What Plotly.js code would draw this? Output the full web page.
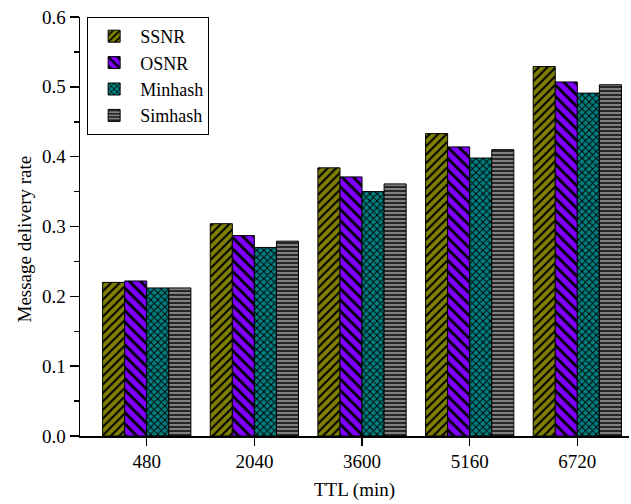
<!DOCTYPE html>
<html><head><meta charset="utf-8">
<script src="https://cdn.plot.ly/plotly-3.0.1.min.js"></script>
<style>html,body{margin:0;padding:0;background:#fff}</style>
</head><body><div id="chart" style="width:631px;height:504px"></div>
<script>
const categories = ["480", "2040", "3600", "5160", "6720"];
const seriesNames = ["SSNR", "OSNR", "Minhash", "Simhash"];
const ssnr = [0.220, 0.304, 0.384, 0.433, 0.529];
const osnr = [0.222, 0.287, 0.371, 0.414, 0.507];
const minhash = [0.212, 0.270, 0.350, 0.398, 0.491];
const simhash = [0.212, 0.279, 0.361, 0.410, 0.503];

const values = [ssnr, osnr, minhash, simhash];
const colors = ["#808000", "#7f00ff", "#008080", "#808080"];
const shapes = ["/", "\\", "x", "-"];
const sizes = [6, 8, 5, 4];

const traces = values.map((v, i) => ({
  type: "bar",
  name: seriesNames[i],
  x: categories,
  y: v,
  marker: {
    color: colors[i],
    line: {color: "#000", width: 1},
    pattern: {shape: shapes[i], bgcolor: colors[i], fgcolor: "#000", fillmode: "replace", size: sizes[i], solidity: 0.35}
  }
}));

const font = {family: "Liberation Serif", color: "#000"};
Plotly.newPlot("chart", traces, {
  width: 631, height: 504,
  margin: {l: 80, r: 2, t: 17, b: 68},
  paper_bgcolor: "#fff", plot_bgcolor: "#fff",
  font: Object.assign({size: 19}, font),
  barmode: "group", bargap: 0.18, bargroupgap: 0,
  showlegend: true,
  legend: {x: 0.013, y: 1.0, xanchor: "left", yanchor: "top", bordercolor: "#000", borderwidth: 1,
           bgcolor: "#fff", font: Object.assign({size: 18}, font), tracegroupgap: 0, itemwidth: 42},
  annotations: [
    {text: "Message delivery rate", xref: "paper", yref: "paper", x: -0.102, y: 0.469,
     xanchor: "center", yanchor: "middle", textangle: -90, showarrow: false,
     font: Object.assign({size: 19}, font)},
    {text: "TTL (min)", xref: "paper", yref: "paper", x: 0.5, y: -0.129,
     xanchor: "center", yanchor: "middle", showarrow: false,
     font: Object.assign({size: 19}, font)}
  ],
  xaxis: {type: "category", range: [-0.62, 4.48], showline: true, linecolor: "#000", linewidth: 1.5,
          ticks: "outside", ticklen: 8, tickwidth: 1.5, tickcolor: "#000", showgrid: false, zeroline: false,
          tickfont: Object.assign({size: 19}, font)},
  yaxis: {range: [0, 0.6], dtick: 0.1, tickformat: ".1f", showline: true, linecolor: "#000", linewidth: 1.5,
          ticks: "outside", ticklen: 9, tickwidth: 1.5, tickcolor: "#000", showgrid: false, zeroline: false,
          minor: {dtick: 0.05, ticks: "outside", ticklen: 5, tickcolor: "#000", tickwidth: 1.5},
          tickfont: Object.assign({size: 19}, font)}
}, {displayModeBar: false, staticPlot: true});
</script></body></html>
